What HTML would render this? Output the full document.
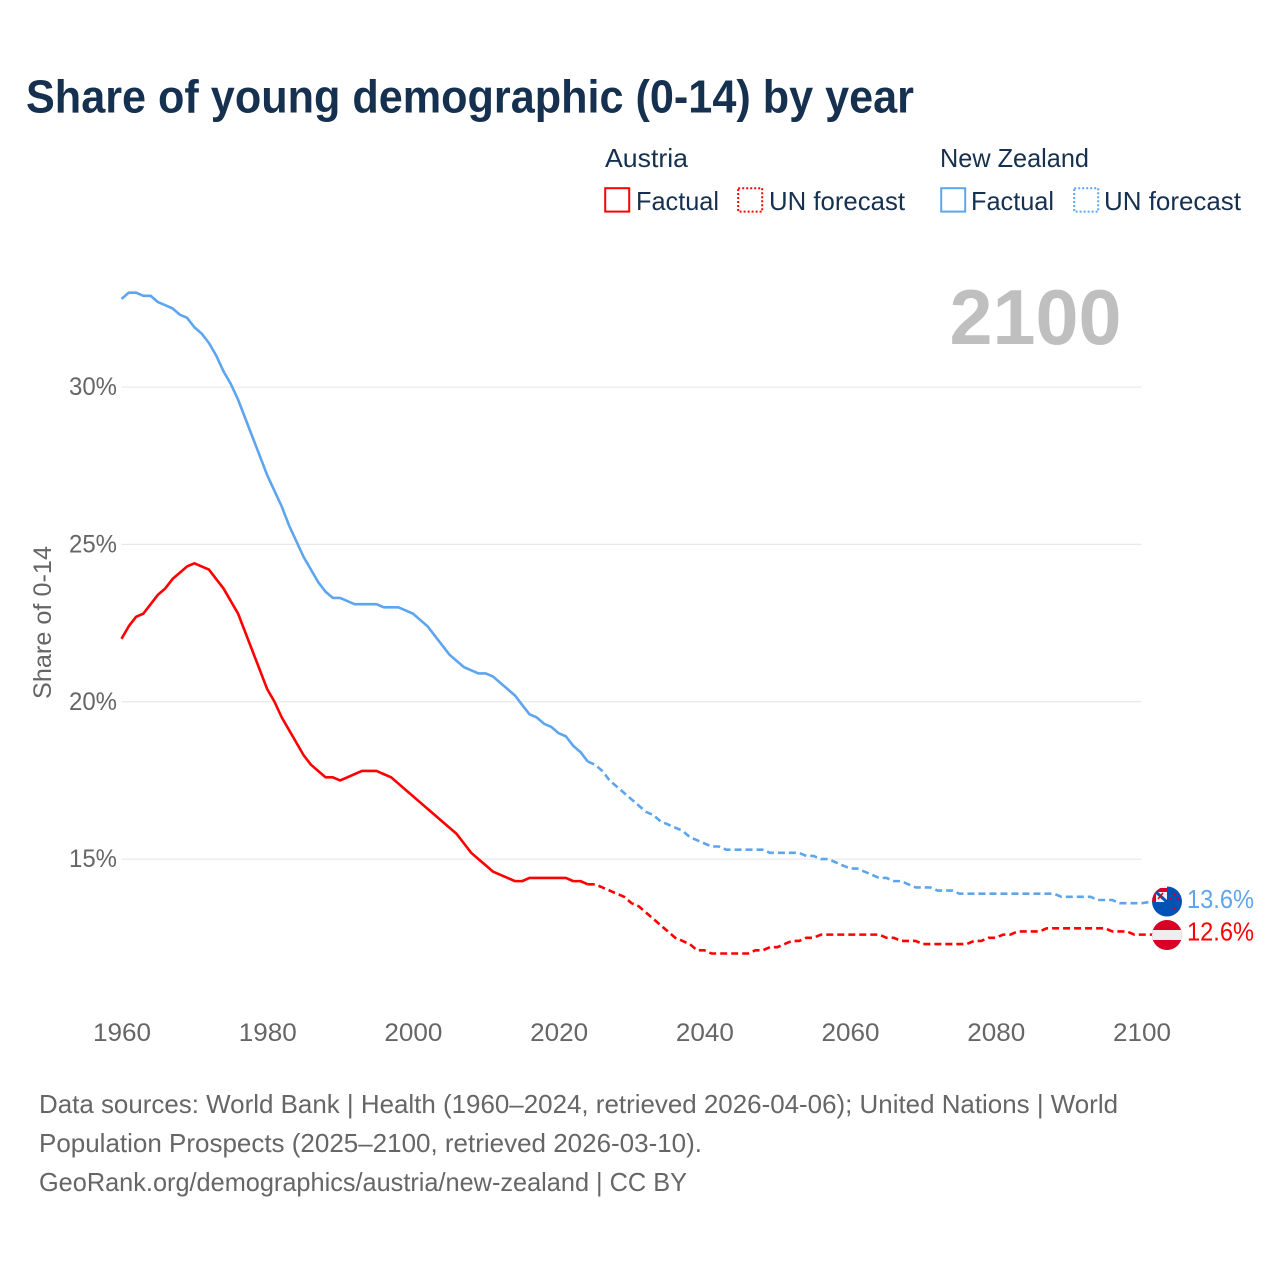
<!DOCTYPE html>
<html lang="en">
<head>
<meta charset="utf-8">
<title>Share of young demographic (0-14) by year</title>
<style>
html,body{margin:0;padding:0;background:#fff}
svg{display:block}
text{font-family:"Liberation Sans",sans-serif}
</style>
</head>
<body>
<svg id="chart" xmlns="http://www.w3.org/2000/svg" width="1280" height="1280" viewBox="0 0 1280 1280">
  <defs>
    <clipPath id="nz-clip"><circle id="nz-clip-circle" cx="1167" cy="901.5" r="15"/></clipPath>
    <clipPath id="at-clip"><circle id="at-clip-circle" cx="1167" cy="935" r="15"/></clipPath>
  </defs>
  <rect width="1280" height="1280" fill="#fff"/>
  <text x="26" y="112.5" font-size="46" font-weight="700" fill="#16304f" textLength="888" lengthAdjust="spacingAndGlyphs">Share of young demographic (0-14) by year</text>

  <g font-size="26" fill="#16304f">
    <text x="605" y="167" textLength="83" lengthAdjust="spacingAndGlyphs">Austria</text>
    <rect x="605.2" y="188.2" width="24" height="23.4" fill="none" stroke="#ff0000" stroke-width="2"/>
    <text x="636" y="210" textLength="83" lengthAdjust="spacingAndGlyphs">Factual</text>
    <rect x="738.2" y="188.2" width="24" height="23.4" fill="none" stroke="#ff0000" stroke-width="2" stroke-dasharray="2 2"/>
    <text x="769" y="210" textLength="136" lengthAdjust="spacingAndGlyphs">UN forecast</text>
    <text x="940" y="167" textLength="149" lengthAdjust="spacingAndGlyphs">New Zealand</text>
    <rect x="941.2" y="188.2" width="24" height="23.4" fill="none" stroke="#5da5ee" stroke-width="2"/>
    <text x="971" y="210" textLength="83" lengthAdjust="spacingAndGlyphs">Factual</text>
    <rect x="1074.2" y="188.2" width="24" height="23.4" fill="none" stroke="#5da5ee" stroke-width="2" stroke-dasharray="2 2"/>
    <text x="1104" y="210" textLength="137" lengthAdjust="spacingAndGlyphs">UN forecast</text>
  </g>

  <text x="949.5" y="344" font-size="78" font-weight="700" fill="#bfbfbf" textLength="172" lengthAdjust="spacingAndGlyphs">2100</text>

  <g id="grid"></g>
  <g id="y-ticks" font-size="25" fill="#666666"></g>
  <g id="x-ticks" font-size="25" fill="#666666"></g>
  <text transform="translate(51 622.5) rotate(-90)" text-anchor="middle" font-size="25" fill="#666666" textLength="153" lengthAdjust="spacingAndGlyphs">Share of 0-14</text>

  <g id="series"></g>

  <g id="flag-new-zealand">
    <g clip-path="url(#nz-clip)">
      <rect x="1150" y="885" width="34" height="34" fill="#0052b4"/>
      <rect x="1150" y="888" width="17" height="14" fill="#eeeeee"/>
      <rect x="1150" y="888" width="17" height="4" fill="#d80027"/>
      <rect x="1150" y="888" width="6" height="14" fill="#d80027"/>
      <path d="M1156 892 L1167 902" stroke="#0052b4" stroke-width="3" fill="none"/>
      <path d="M1158 899 L1163 893" stroke="#d80027" stroke-width="1.5" fill="none"/>
      <rect x="1150" y="884" width="17" height="4" fill="#ffffff"/>
      <circle cx="1174" cy="894" r="1.2" fill="#d80027"/>
      <circle cx="1170.5" cy="899" r="1.2" fill="#d80027"/>
      <circle cx="1178" cy="899" r="1.2" fill="#d80027"/>
      <circle cx="1174" cy="908" r="1.2" fill="#d80027"/>
    </g>
  </g>
  <g id="flag-austria">
    <g clip-path="url(#at-clip)">
      <rect id="at-red" x="1150" y="918" width="34" height="34" fill="#d80027"/>
      <rect id="at-white" x="1150" y="930" width="34" height="10" fill="#eeeeee"/>
    </g>
  </g>
  <text id="label-nz" x="1187" y="908" font-size="26" fill="#5da5ee" textLength="67" lengthAdjust="spacingAndGlyphs"></text>
  <text id="label-at" x="1187" y="941" font-size="26" fill="#ff0000" textLength="67" lengthAdjust="spacingAndGlyphs"></text>

  <g font-size="26" fill="#666666">
    <text x="39" y="1113" textLength="1079" lengthAdjust="spacingAndGlyphs">Data sources: World Bank | Health (1960–2024, retrieved 2026-04-06); United Nations | World</text>
    <text x="39" y="1152" textLength="663" lengthAdjust="spacingAndGlyphs">Population Prospects (2025–2100, retrieved 2026-03-10).</text>
    <text x="39" y="1191" textLength="648" lengthAdjust="spacingAndGlyphs">GeoRank.org/demographics/austria/new-zealand | CC BY</text>
  </g>
</svg>
<script>
const startYear = 1960;
const lastFactualYear = 2024;
const xTickYears = [1960, 1980, 2000, 2020, 2040, 2060, 2080, 2100];
const yTickValues = [15, 20, 25, 30];
const austriaValues = [
  22.0,22.4,22.7,22.8,23.1,23.4,23.6,23.9,24.1,24.3,
  24.4,24.3,24.2,23.9,23.6,23.2,22.8,22.2,21.6,21.0,
  20.4,20.0,19.5,19.1,18.7,18.3,18.0,17.8,17.6,17.6,
  17.5,17.6,17.7,17.8,17.8,17.8,17.7,17.6,17.4,17.2,
  17.0,16.8,16.6,16.4,16.2,16.0,15.8,15.5,15.2,15.0,
  14.8,14.6,14.5,14.4,14.3,14.3,14.4,14.4,14.4,14.4,
  14.4,14.4,14.3,14.3,14.2,14.2,14.1,14.0,13.9,13.8,
  13.6,13.5,13.3,13.1,12.9,12.7,12.5,12.4,12.3,12.1,
  12.1,12.0,12.0,12.0,12.0,12.0,12.0,12.1,12.1,12.2,
  12.2,12.3,12.4,12.4,12.5,12.5,12.6,12.6,12.6,12.6,
  12.6,12.6,12.6,12.6,12.6,12.5,12.5,12.4,12.4,12.4,
  12.3,12.3,12.3,12.3,12.3,12.3,12.3,12.4,12.4,12.5,
  12.5,12.6,12.6,12.7,12.7,12.7,12.7,12.8,12.8,12.8,
  12.8,12.8,12.8,12.8,12.8,12.8,12.7,12.7,12.7,12.6,
  12.6
];
const newZealandValues = [
  32.8,33.0,33.0,32.9,32.9,32.7,32.6,32.5,32.3,32.2,
  31.9,31.7,31.4,31.0,30.5,30.1,29.6,29.0,28.4,27.8,
  27.2,26.7,26.2,25.6,25.1,24.6,24.2,23.8,23.5,23.3,
  23.3,23.2,23.1,23.1,23.1,23.1,23.0,23.0,23.0,22.9,
  22.8,22.6,22.4,22.1,21.8,21.5,21.3,21.1,21.0,20.9,
  20.9,20.8,20.6,20.4,20.2,19.9,19.6,19.5,19.3,19.2,
  19.0,18.9,18.6,18.4,18.1,18.0,17.8,17.5,17.3,17.1,
  16.9,16.7,16.5,16.4,16.2,16.1,16.0,15.9,15.7,15.6,
  15.5,15.4,15.4,15.3,15.3,15.3,15.3,15.3,15.3,15.2,
  15.2,15.2,15.2,15.2,15.1,15.1,15.0,15.0,14.9,14.8,
  14.7,14.7,14.6,14.5,14.4,14.4,14.3,14.3,14.2,14.1,
  14.1,14.1,14.0,14.0,14.0,13.9,13.9,13.9,13.9,13.9,
  13.9,13.9,13.9,13.9,13.9,13.9,13.9,13.9,13.9,13.8,
  13.8,13.8,13.8,13.8,13.7,13.7,13.7,13.6,13.6,13.6,
  13.6
];

const SVG_NS = 'http://www.w3.org/2000/svg';
function xScale(year) { return 121.5 + (year - 1960) * (1020 / 140); }
function yScale(value) { return 859.1 - (value - 15) * 31.47; }

const gridGroup = document.getElementById('grid');
const yTickGroup = document.getElementById('y-ticks');
yTickValues.forEach(function (v) {
  const line = document.createElementNS(SVG_NS, 'line');
  
  
  line.setAttribute('x1', xScale(1960));
  line.setAttribute('x2', xScale(2100));
  line.setAttribute('y1', yScale(v));
  line.setAttribute('y2', yScale(v));
  line.setAttribute('stroke', '#e8e8e8');
  line.setAttribute('stroke-width', '1.2');
  gridGroup.appendChild(line);
  const label = document.createElementNS(SVG_NS, 'text');
  
  
  label.setAttribute('x', 69);
  label.setAttribute('y', yScale(v) + 8);
  label.setAttribute('textLength', '48');
  label.setAttribute('lengthAdjust', 'spacingAndGlyphs');
  label.textContent = v + '%';
  yTickGroup.appendChild(label);
});

const xTickGroup = document.getElementById('x-ticks');
xTickYears.forEach(function (yr) {
  const label = document.createElementNS(SVG_NS, 'text');
  
  
  label.setAttribute('x', xScale(yr) + 0.5 - 29);
  label.setAttribute('y', 1041);
  label.setAttribute('textLength', '58');
  label.setAttribute('lengthAdjust', 'spacingAndGlyphs');
  label.textContent = yr;
  xTickGroup.appendChild(label);
});

const seriesGroup = document.getElementById('series');
function pathFor(values, fromYear, toYear, extra) {
  const pts = [];
  for (let yr = fromYear; yr <= toYear; yr++) {
    pts.push(xScale(yr).toFixed(2) + ' ' + yScale(values[yr - startYear]).toFixed(2));
  }
  if (extra) { pts.push(extra[0].toFixed(2) + ' ' + extra[1].toFixed(2)); }
  return 'M' + pts.join(' L');
}
function drawSeries(name, values, color, flagOffset) {
  const lastYear = startYear + values.length - 1;
  const last = values[values.length - 1];
  const factual = document.createElementNS(SVG_NS, 'path');
  
  
  factual.setAttribute('d', pathFor(values, startYear, lastFactualYear));
  factual.setAttribute('fill', 'none');
  factual.setAttribute('stroke', color);
  factual.setAttribute('stroke-width', '2.6');
  factual.setAttribute('stroke-linejoin', 'round');
  seriesGroup.appendChild(factual);
  const forecast = document.createElementNS(SVG_NS, 'path');
  
  
  forecast.setAttribute('d', pathFor(values, lastFactualYear, lastYear, [xScale(lastYear) + 11, yScale(last) + flagOffset]));
  forecast.setAttribute('fill', 'none');
  forecast.setAttribute('stroke', color);
  forecast.setAttribute('stroke-width', '2.6');
  forecast.setAttribute('stroke-dasharray', '7 4');
  seriesGroup.appendChild(forecast);
}
drawSeries('new-zealand', newZealandValues, '#5da5ee', -1.5);
drawSeries('austria', austriaValues, '#ff0000', 0);

const nzLast = newZealandValues[newZealandValues.length - 1];
const atLast = austriaValues[austriaValues.length - 1];
const nzBaseY = 859.1 - (13.6 - 15) * 31.47;
const atBaseY = 859.1 - (12.6 - 15) * 31.47;
document.getElementById('flag-new-zealand').setAttribute('transform', 'translate(0 ' + (yScale(nzLast) - nzBaseY).toFixed(2) + ')');
document.getElementById('flag-austria').setAttribute('transform', 'translate(0 ' + (yScale(atLast) - atBaseY).toFixed(2) + ')');
const nzLabel = document.getElementById('label-nz');
nzLabel.textContent = nzLast.toFixed(1) + '%';
nzLabel.setAttribute('y', (yScale(nzLast) + 5).toFixed(2));
const atLabel = document.getElementById('label-at');
atLabel.textContent = atLast.toFixed(1) + '%';
atLabel.setAttribute('y', (yScale(atLast) + 6).toFixed(2));
</script>
</body>
</html>
